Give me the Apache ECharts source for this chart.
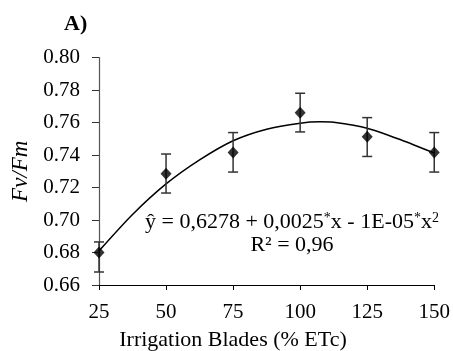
<!DOCTYPE html>
<html>
<head>
<meta charset="utf-8">
<script src="https://cdn.jsdelivr.net/npm/echarts@6/dist/echarts.min.js"></script>
<style>
  html, body { margin: 0; padding: 0; background: #fff; }
  #chart { width: 453px; height: 351px; }
</style>
</head>
<body>
<div id="chart"></div>
<script>
// data
var blades = [25, 50, 75, 100, 125, 150];
var fvfm = [0.680, 0.7285, 0.7415, 0.766, 0.7512, 0.7415];
var errHigh = [0.6865, 0.7406, 0.7538, 0.778, 0.763, 0.7538];
var errLow = [0.668, 0.7166, 0.7295, 0.7542, 0.7391, 0.7295];

// trend curve, points
var trendX = [25, 37.5, 50, 62.5, 75, 87.5, 100, 107.5, 112.5, 125, 137.5, 150];
var trendY = [0.681, 0.7034, 0.7222, 0.737, 0.7488, 0.7559, 0.7596, 0.7604, 0.7601, 0.7565, 0.7494, 0.7412];

var yTicks = [0.66, 0.68, 0.70, 0.72, 0.74, 0.76, 0.78, 0.80];

var serif = 'Liberation Serif';

var chart = echarts.init(document.getElementById('chart'));

var points = [];
for (var i = 0; i < blades.length; i++) {
  points.push([blades[i], fvfm[i]]);
}
var bars = [];
for (var i = 0; i < blades.length; i++) {
  bars.push([blades[i], errLow[i], errHigh[i]]);
}
var trend = [];
for (var i = 0; i < trendX.length; i++) {
  trend.push([trendX[i], trendY[i]]);
}

var option = {
  animation: false,
  grid: { left: 99, right: 17, top: 57.5, bottom: 66 },
  xAxis: {
    type: 'value',
    min: 25,
    max: 150,
    interval: 25,
    splitLine: { show: false },
    axisLine: { lineStyle: { color: '#000', width: 1.2 } },
    axisTick: { length: 5, lineStyle: { color: '#000' } },
    axisLabel: { color: '#000', fontFamily: serif, fontSize: 21, margin: 17 }
  },
  yAxis: {
    type: 'value',
    min: yTicks[0],
    max: yTicks[yTicks.length - 1],
    interval: 0.02,
    splitLine: { show: false },
    axisLine: { show: true, lineStyle: { color: '#555', width: 1.2 } },
    axisTick: { show: true, length: 7, lineStyle: { color: '#333' } },
    axisLabel: {
      color: '#000', fontFamily: serif, fontSize: 21, margin: 19,
      formatter: function (v) { return v.toFixed(2); }
    },
    name: 'Fv/Fm',
    nameLocation: 'middle',
    nameGap: 65,
    nameTextStyle: { color: '#000', fontFamily: serif, fontSize: 23, fontStyle: 'italic' }
  },
  graphic: [
    {
      type: 'text', left: 64, top: 13,
      style: { text: 'A)', fill: '#000', font: 'bold 22px "Liberation Serif"' }
    },
    {
      type: 'text', x: 233, y: 329,
      style: {
        text: 'Irrigation Blades (% ETc)', fill: '#000',
        font: '22px "Liberation Serif"', align: 'center'
      }
    },
    {
      type: 'text', x: 292, y: 211,
      style: {
        text: '{a|ŷ = 0,6278 + 0,0025}{s|*}{a|x - 1E-05}{s|*}{a|x}{s|2}\n{a|R² = 0,96}',
        align: 'center',
        rich: {
          a: { fontFamily: serif, fontSize: 22, color: '#000', lineHeight: 23 },
          s: { fontFamily: serif, fontSize: 14, color: '#000', verticalAlign: 'top', lineHeight: 23, padding: [0, 0, 8, 0] }
        }
      }
    }
  ],
  series: [
    {
      type: 'line',
      data: trend,
      smooth: 0.25,
      showSymbol: false,
      lineStyle: { color: '#000', width: 1.5 },
      z: 2
    },
    {
      type: 'custom',
      data: bars,
      renderItem: function (params, api) {
        var x = api.value(0);
        var lo = api.coord([x, api.value(1)]);
        var hi = api.coord([x, api.value(2)]);
        var cap = 5;
        var style = { stroke: '#333', lineWidth: 1.5 };
        return {
          type: 'group',
          children: [
            { type: 'line', shape: { x1: lo[0], y1: lo[1], x2: hi[0], y2: hi[1] }, style: style },
            { type: 'line', shape: { x1: hi[0] - cap, y1: hi[1], x2: hi[0] + cap, y2: hi[1] }, style: style },
            { type: 'line', shape: { x1: lo[0] - cap, y1: lo[1], x2: lo[0] + cap, y2: lo[1] }, style: style }
          ]
        };
      },
      z: 3
    },
    {
      type: 'scatter',
      data: points,
      symbol: 'diamond',
      symbolSize: [11, 12],
      itemStyle: { color: '#000' },
      z: 4
    }
  ]
};

chart.setOption(option);
</script>
</body>
</html>
